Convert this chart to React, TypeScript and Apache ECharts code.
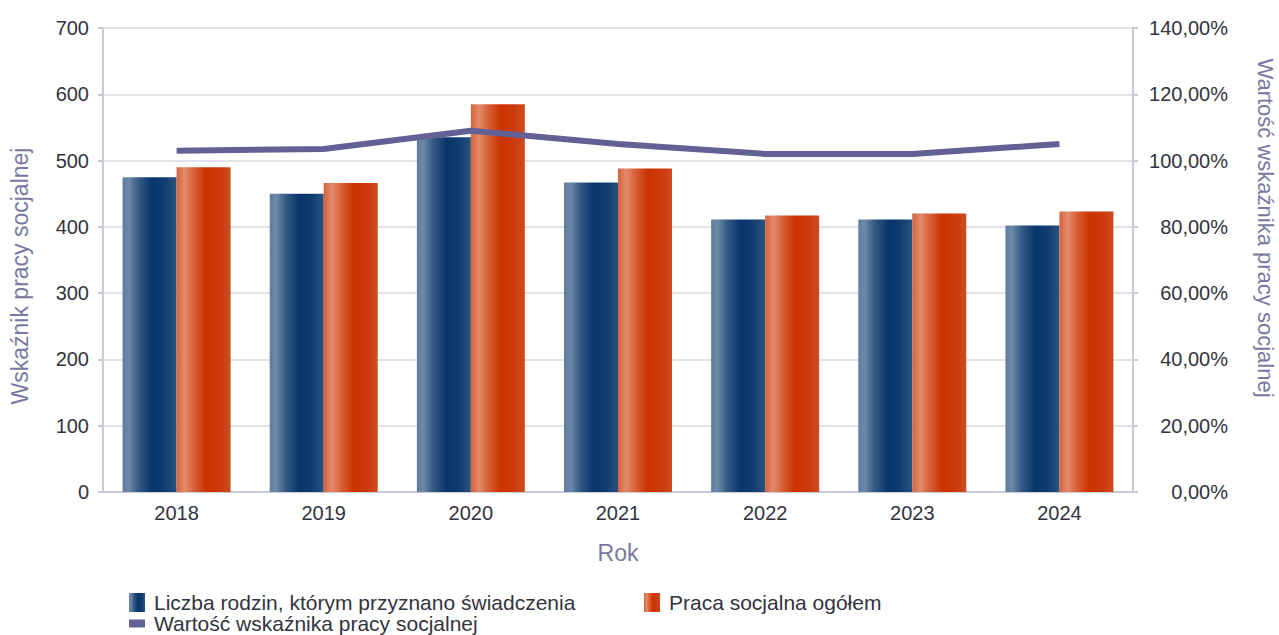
import React, { useEffect, useRef } from "react";
import * as echarts from "echarts";

const years = ["2018", "2019", "2020", "2021", "2022", "2023", "2024"];
const liczbaRodzin = [475, 450, 535, 467, 411, 411, 402];
const pracaSocjalna = [490, 466, 585, 488, 417, 420, 423];
const wskaznik = [1.03, 1.035, 1.09, 1.05, 1.02, 1.02, 1.05];

const nameBlue = "Liczba rodzin, którym przyznano świadczenia";
const nameOrange = "Praca socjalna ogółem";
const nameLine = "Wartość wskaźnika pracy socjalnej";
const leftAxisName = "Wskaźnik pracy socjalnej";
const xAxisName = "Rok";

const FONT = "'Liberation Sans', Arial, sans-serif";

export default function App() {
  const ref = useRef<HTMLDivElement>(null);
  useEffect(() => {
    if (!ref.current) return;
    const chart = echarts.init(ref.current, undefined, { renderer: "svg" });
    const blueGrad = new echarts.graphic.LinearGradient(0, 0, 1, 0, [
      { offset: 0, color: "#5f7d9e" },
      { offset: 0.12, color: "#6d89a8" },
      { offset: 0.3, color: "#335a84" },
      { offset: 0.55, color: "#08356a" },
      { offset: 0.78, color: "#0f3d6f" },
      { offset: 1, color: "#2b5380" },
    ]);
    const orangeGrad = new echarts.graphic.LinearGradient(0, 0, 1, 0, [
      { offset: 0, color: "#d4623c" },
      { offset: 0.15, color: "#e28b6a" },
      { offset: 0.35, color: "#d65a30" },
      { offset: 0.55, color: "#cc3300" },
      { offset: 0.8, color: "#cc3a0c" },
      { offset: 1, color: "#cf4b22" },
    ]);
    const labelColor = "#333340";
    const nameColor = "#7878a0";
    const axisLineColor = "#c9c9d9";
    const legendText = { color: labelColor, fontSize: 21, fontFamily: FONT, padding: [0, 0, 0, 4] };
    chart.setOption({
      animation: false,
      textStyle: { fontFamily: FONT },
      grid: { left: 103, right: 146, top: 28, bottom: 143, containLabel: false },
      legend: [
        {
          data: [nameBlue],
          left: 129,
          top: 592,
          itemWidth: 16,
          itemHeight: 19,
          textStyle: legendText,
          icon: "rect",
          padding: 0,
        },
        {
          data: [nameOrange],
          left: 644,
          top: 592,
          itemWidth: 16,
          itemHeight: 19,
          textStyle: legendText,
          icon: "rect",
          padding: 0,
        },
        {
          data: [nameLine],
          left: 129,
          top: 613,
          itemWidth: 16,
          itemHeight: 8,
          textStyle: legendText,
          icon: "rect",
          padding: 0,
        },
      ],
      xAxis: {
        type: "category",
        data: years,
        name: xAxisName,
        nameLocation: "middle",
        nameGap: 49,
        nameTextStyle: { color: nameColor, fontSize: 23, fontFamily: FONT },
        axisLine: { lineStyle: { color: axisLineColor, width: 2 } },
        axisTick: { show: false },
        axisLabel: { color: labelColor, fontSize: 20, margin: 11, fontFamily: FONT },
      },
      yAxis: [
        {
          type: "value",
          min: 0,
          max: 700,
          interval: 100,
          axisLine: { show: true, lineStyle: { color: axisLineColor, width: 2 } },
          axisTick: { show: true, length: 5, lineStyle: { color: axisLineColor, width: 2 } },
          axisLabel: { color: labelColor, fontSize: 20, margin: 14, fontFamily: FONT },
          splitLine: { lineStyle: { color: "#e1e1ea", width: 2 } },
        },
        {
          type: "value",
          min: 0,
          max: 1.4,
          interval: 0.2,
          position: "right",
          axisLine: { show: true, lineStyle: { color: axisLineColor, width: 2 } },
          axisTick: { show: true, length: 5, lineStyle: { color: axisLineColor, width: 2 } },
          axisLabel: {
            color: labelColor,
            fontSize: 20,
            margin: 95,
            align: "right",
            fontFamily: FONT,
            formatter: (v: number) => (v * 100).toFixed(2).replace(".", ",") + "%",
          },
          splitLine: { show: false },
        },
      ],
      graphic: [
        {
          type: "text",
          x: 20,
          y: 276,
          rotation: Math.PI / 2,
          style: {
            text: leftAxisName,
            fill: nameColor,
            fontSize: 23,
            fontFamily: FONT,
            align: "center",
            verticalAlign: "middle",
          },
        },
        {
          type: "text",
          x: 1265,
          y: 228,
          rotation: -Math.PI / 2,
          style: {
            text: nameLine,
            fill: nameColor,
            fontSize: 22,
            fontFamily: FONT,
            align: "center",
            verticalAlign: "middle",
          },
        },
      ],
      series: [
        {
          name: nameBlue,
          type: "bar",
          data: liczbaRodzin,
          barWidth: 54,
          barGap: "0%",
          itemStyle: { color: blueGrad },
        },
        {
          name: nameOrange,
          type: "bar",
          data: pracaSocjalna,
          barWidth: 54,
          itemStyle: { color: orangeGrad },
        },
        {
          name: nameLine,
          type: "line",
          yAxisIndex: 1,
          data: wskaznik,
          symbol: "none",
          lineStyle: { color: "#636096", width: 6 },
          itemStyle: { color: "#636096" },
          z: 5,
        },
      ],
    });
    return () => chart.dispose();
  }, []);
  return (
    <div
      ref={ref}
      style={{ position: "fixed", left: 0, top: 0, width: 1279, height: 635, background: "#ffffff" }}
    />
  );
}
